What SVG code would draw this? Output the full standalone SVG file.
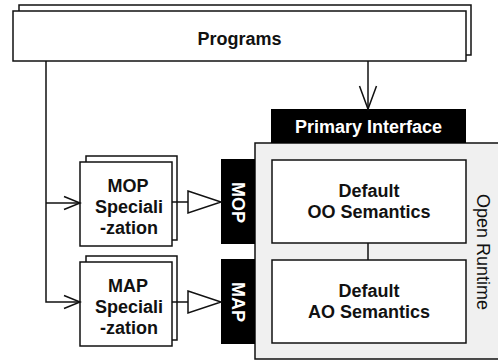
<svg xmlns="http://www.w3.org/2000/svg" width="498" height="362" viewBox="0 0 498 362">
  <style>
    .box { fill: #fff; stroke: #111; stroke-width: 1.5; }
    .tab { fill: #000; stroke: none; }
    .runtime { fill: #f0f0f0; stroke: #111; stroke-width: 1.5; }
    .lbl { font-family: "Liberation Sans", Arial, sans-serif; font-size: 18px; font-weight: bold; fill: #111; text-anchor: middle; }
    .inv { fill: #fff; }
    .side { font-family: "Liberation Sans", Arial, sans-serif; font-size: 18px; fill: #111; text-anchor: middle; }
    .wire { fill: none; stroke: #111; stroke-width: 1.5; }
    .head { fill: #fff; stroke: #111; stroke-width: 1.5; stroke-linejoin: miter; }
  </style>

  <!-- open runtime container -->
  <g id="open-runtime">
    <rect class="runtime" x="255" y="143" width="260" height="216"/>
    <text class="side" transform="translate(477,252) rotate(90)">Open Runtime</text>
  </g>

  <g id="programs">
    <rect class="box" x="19" y="5" width="452" height="50"/>
    <rect class="box" x="13" y="11" width="453" height="50"/>
    <text class="lbl" x="239.5" y="45">Programs</text>
  </g>

  <g id="primary-interface">
    <rect class="tab" x="271" y="109" width="195" height="34"/>
    <text class="lbl inv" x="368.5" y="133">Primary Interface</text>
  </g>

  <g id="default-oo">
    <rect class="box" x="272" y="160" width="194" height="83"/>
    <text class="lbl" x="369" y="197">Default</text>
    <text class="lbl" x="369" y="218">OO Semantics</text>
  </g>

  <g id="default-ao">
    <rect class="box" x="272" y="260" width="194" height="83"/>
    <text class="lbl" x="369" y="297">Default</text>
    <text class="lbl" x="369" y="318">AO Semantics</text>
  </g>

  <g id="mop-tab">
    <rect class="tab" x="221" y="159" width="34" height="85"/>
    <text class="lbl inv" transform="translate(232,202.5) rotate(90)">MOP</text>
  </g>

  <g id="map-tab">
    <rect class="tab" x="221" y="259" width="34" height="85"/>
    <text class="lbl inv" transform="translate(232,302) rotate(90)">MAP</text>
  </g>

  <g id="mop-specialization">
    <rect class="box" x="86" y="156" width="91" height="84"/>
    <rect class="box" x="80" y="162" width="92" height="84"/>
    <text class="lbl" x="128" y="192">MOP</text>
    <text class="lbl" x="129" y="213">Speciali</text>
    <text class="lbl" x="129" y="234">-zation</text>
  </g>

  <g id="map-specialization">
    <rect class="box" x="86" y="256" width="91" height="84"/>
    <rect class="box" x="80" y="262" width="92" height="84"/>
    <text class="lbl" x="128" y="292">MAP</text>
    <text class="lbl" x="129" y="313">Speciali</text>
    <text class="lbl" x="129" y="334">-zation</text>
  </g>

  <g id="connectors">
    <!-- programs to primary interface -->
    <path class="wire" d="M368,61 V109"/>
    <path class="wire" d="M359.5,86 L368,109 L376.5,86"/>
    <!-- programs down to both specializations -->
    <path class="wire" d="M46,61 V302 H80"/>
    <path class="wire" d="M46,203 H80"/>
    <path class="wire" d="M64,196.5 L80,203 L64,209.5"/>
    <path class="wire" d="M64,295.5 L80,302 L64,308.5"/>
    <!-- specializations realize protocols -->
    <path class="wire" d="M172,202 H188"/>
    <path class="head" d="M188,191 L221,202 L188,213 Z"/>
    <path class="wire" d="M172,302 H188"/>
    <path class="head" d="M188,291 L221,302 L188,313 Z"/>
    <!-- link between default semantics -->
    <path class="wire" d="M368,243 V260"/>
  </g>
</svg>
